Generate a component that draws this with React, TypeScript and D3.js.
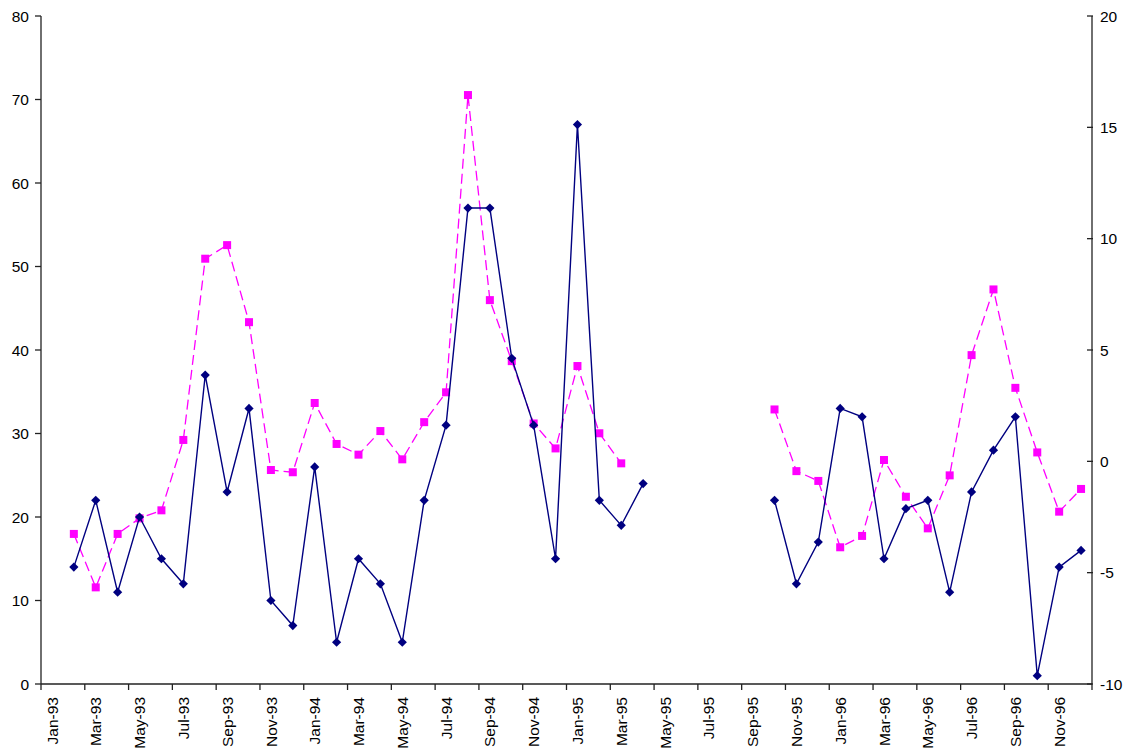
import React from "react";
import * as d3 from "d3";

const months = ["Jan", "Feb", "Mar", "Apr", "May", "Jun", "Jul", "Aug", "Sep", "Oct", "Nov", "Dec"];
const years = ["93", "94", "95", "96"];
const categories: string[] = years.flatMap((y) => months.map((m) => `${m}-${y}`));

// Left axis series (navy, diamonds)
const seriesLeft: (number | null)[] = [
  null, 14, 22, 11, 20, 15, 12, 37, 23, 33, 10, 7,
  26, 5, 15, 12, 5, 22, 31, 57, 57, 39, 31, 15,
  67, 22, 19, 24, null, null, null, null, null, 22, 12, 17,
  33, 32, 15, 21, 22, 11, 23, 28, 32, 1, 14, 16,
];

// Right axis series (magenta dashed, squares)
const seriesRight: (number | null)[] = [
  null, -3.26, -5.66, -3.26, -2.56, -2.2, 0.96, 9.1, 9.71, 6.25, -0.39, -0.49,
  2.62, 0.78, 0.3, 1.36, 0.09, 1.76, 3.1, 16.45, 7.24, 4.5, 1.7, 0.58,
  4.28, 1.26, -0.09, null, null, null, null, null, null, 2.33, -0.44, -0.88,
  -3.86, -3.35, 0.06, -1.59, -3.01, -0.63, 4.77, 7.72, 3.3, 0.4, -2.26, -1.24,
];

const leftTicks = [0, 10, 20, 30, 40, 50, 60, 70, 80];
const rightTicks = [-10, -5, 0, 5, 10, 15, 20];

const W = 1132;
const H = 755;
const plot = { left: 41, right: 1092, top: 16, bottom: 684 };
const FONT = "'Liberation Sans', Arial, sans-serif";

export default function App() {
  const x = d3
    .scaleBand<number>()
    .domain(d3.range(categories.length))
    .range([plot.left, plot.right])
    .paddingInner(0)
    .paddingOuter(0);
  const bw = x.bandwidth();
  const cx = (i: number) => (x(i) as number) + bw / 2;
  const yL = d3.scaleLinear().domain([0, 80]).range([plot.bottom, plot.top]);
  const yR = d3.scaleLinear().domain([-10, 20]).range([plot.bottom, plot.top]);

  const lineL = d3
    .line<number | null>()
    .defined((d) => d !== null)
    .x((_, i) => cx(i))
    .y((d) => yL(d as number));
  const lineR = d3
    .line<number | null>()
    .defined((d) => d !== null)
    .x((_, i) => cx(i))
    .y((d) => yR(d as number));

  const r = 4.6;
  const diamond = `M0,${-r}L${r},0L0,${r}L${-r},0Z`;

  const axisColor = "#222";
  const fs = 15.5;

  return (
    <div style={{ position: "absolute", left: 0, top: 0 }}>
      <svg width={W} height={H} style={{ display: "block", background: "#fff" }}>
        <rect x={0} y={0} width={W} height={H} fill="#fff" />
        {/* Magenta dashed series */}
        <path
          d={lineR(seriesRight) || ""}
          fill="none"
          stroke="#FF00FF"
          strokeWidth={1.3}
          strokeDasharray="10,5"
        />
        {seriesRight.map((d, i) =>
          d === null ? null : (
            <rect key={"r" + i} x={cx(i) - 4} y={yR(d) - 4} width={8} height={8} fill="#FF00FF" />
          )
        )}
        {/* Navy series */}
        <path d={lineL(seriesLeft) || ""} fill="none" stroke="#000080" strokeWidth={1.4} />
        {seriesLeft.map((d, i) =>
          d === null ? null : (
            <path key={"l" + i} d={diamond} transform={`translate(${cx(i)},${yL(d)})`} fill="#000080" />
          )
        )}

        {/* Left axis */}
        <line x1={plot.left} x2={plot.left} y1={plot.top} y2={plot.bottom} stroke={axisColor} strokeWidth={1.3} />
        {leftTicks.map((t) => (
          <g key={"lt" + t}>
            <line x1={plot.left - 6} x2={plot.left} y1={yL(t)} y2={yL(t)} stroke={axisColor} strokeWidth={1.3} />
            <text x={plot.left - 12} y={yL(t)} dy="0.36em" textAnchor="end" fontFamily={FONT} fontSize={fs} fill="#000">
              {t}
            </text>
          </g>
        ))}

        {/* Right axis */}
        <line x1={plot.right} x2={plot.right} y1={plot.top} y2={plot.bottom} stroke={axisColor} strokeWidth={1.3} />
        {rightTicks.map((t) => (
          <g key={"rt" + t}>
            <line x1={plot.right - 5} x2={plot.right + 1} y1={yR(t)} y2={yR(t)} stroke={axisColor} strokeWidth={1.3} />
            <text x={plot.right + 8} y={yR(t)} dy="0.36em" textAnchor="start" fontFamily={FONT} fontSize={fs} fill="#000">
              {t}
            </text>
          </g>
        ))}

        {/* Bottom axis */}
        <line x1={plot.left} x2={plot.right} y1={plot.bottom} y2={plot.bottom} stroke={axisColor} strokeWidth={1.3} />
        {categories.map((c, i) =>
          i % 2 === 0 ? (
            <g key={"xt" + i}>
              <line
                x1={x(i) as number}
                x2={x(i) as number}
                y1={plot.bottom}
                y2={plot.bottom + 6}
                stroke={axisColor}
                strokeWidth={1.3}
              />
              <text
                transform={`translate(${cx(i)},${plot.bottom + 13}) rotate(-90)`}
                dy="0.36em"
                textAnchor="end"
                fontFamily={FONT}
                fontSize={fs}
                fill="#000"
              >
                {c}
              </text>
            </g>
          ) : null
        )}
        <line
          x1={plot.right}
          x2={plot.right}
          y1={plot.bottom}
          y2={plot.bottom + 6}
          stroke={axisColor}
          strokeWidth={1.3}
        />
      </svg>
    </div>
  );
}
